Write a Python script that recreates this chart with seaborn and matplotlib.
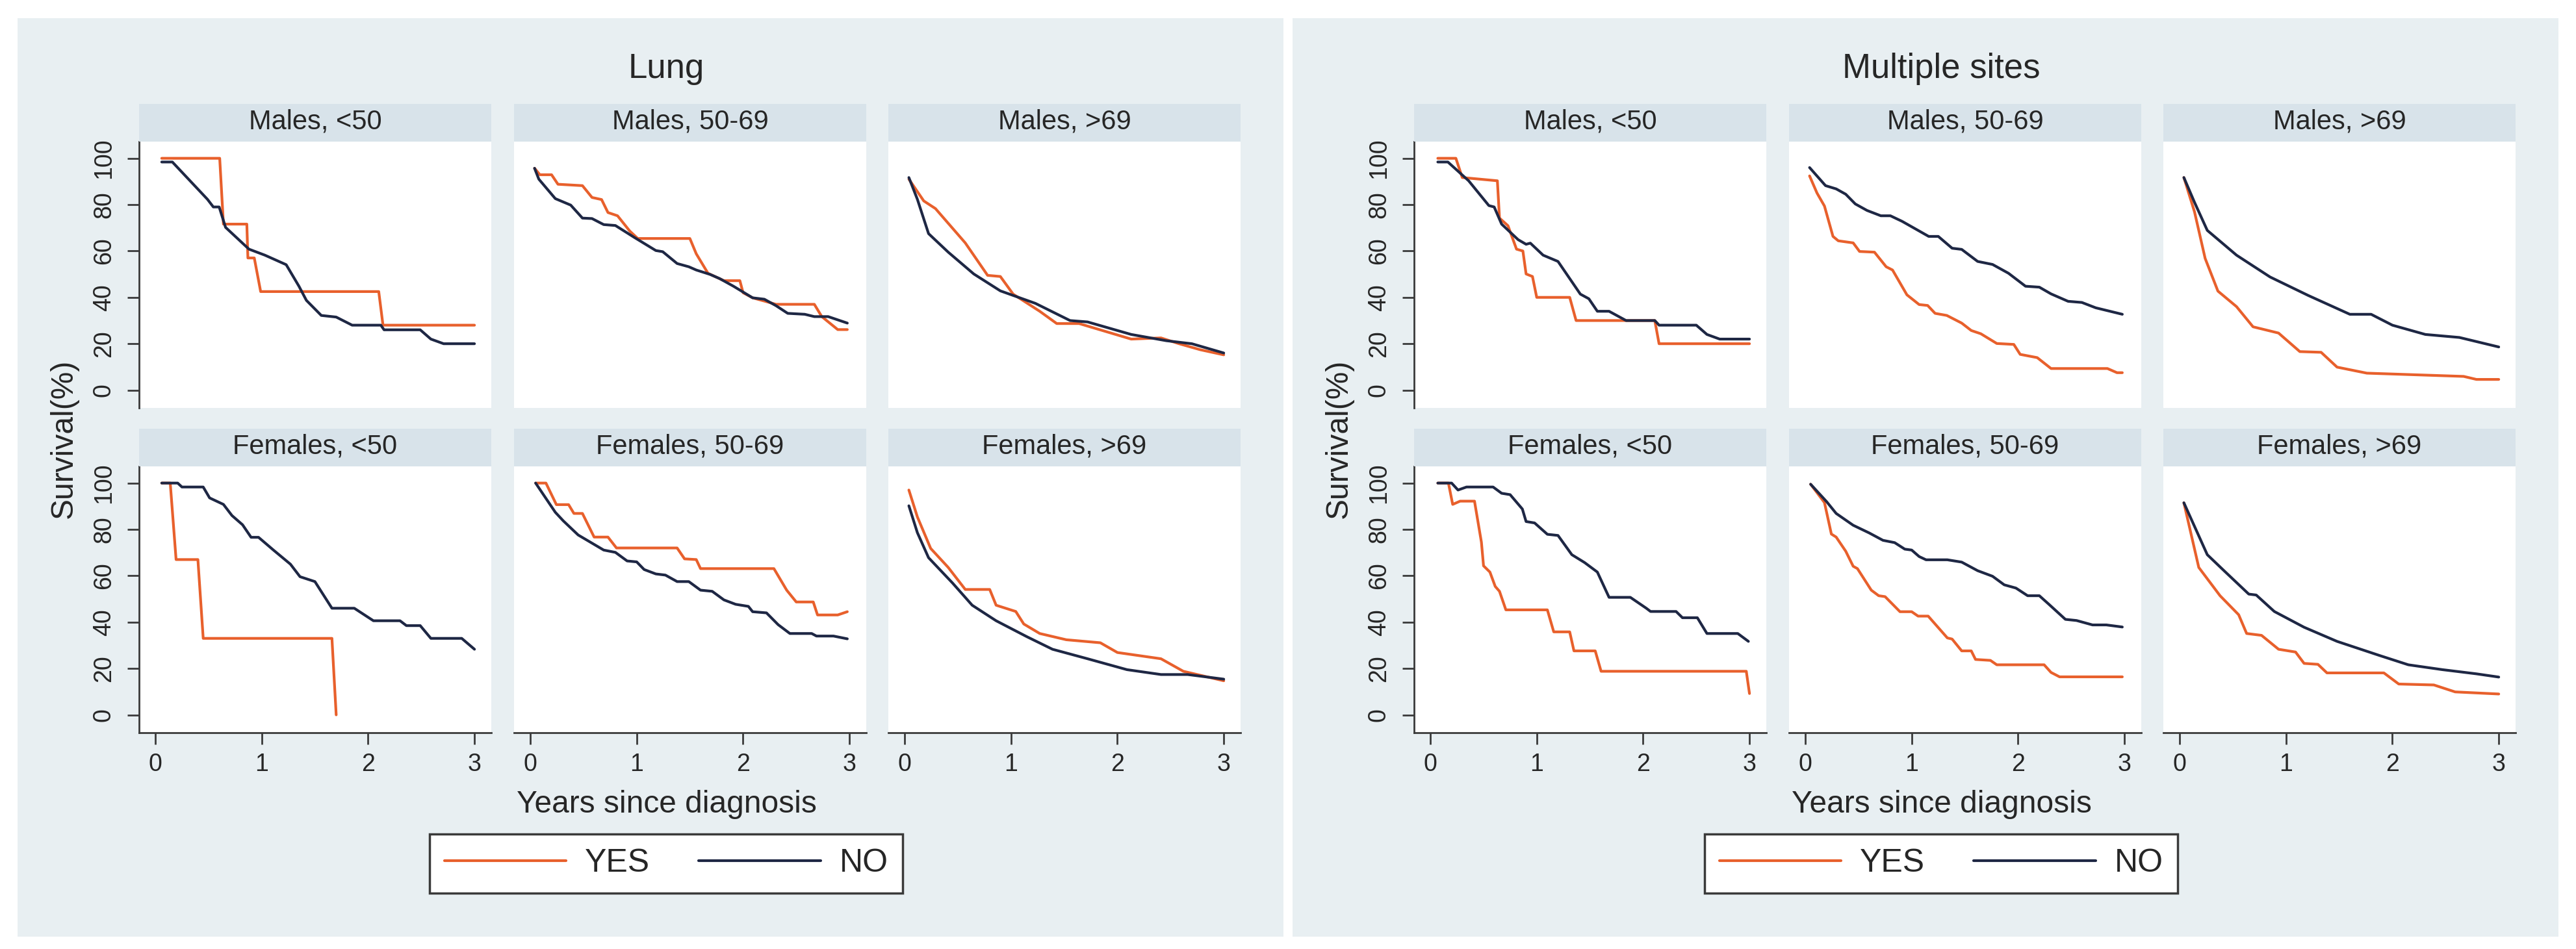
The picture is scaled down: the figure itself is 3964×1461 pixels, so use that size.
import matplotlib
matplotlib.use("Agg")
import matplotlib.pyplot as plt
from matplotlib.patches import Rectangle
from matplotlib.lines import Line2D
import pandas as pd
import seaborn as sns

# ---- values (years since diagnosis, survival %) ----
sites = ["Lung", "Multiple sites"]
panel_titles = [["Males, <50", "Males, 50-69", "Males, >69"],
                ["Females, <50", "Females, 50-69", "Females, >69"]]
groups = ["YES", "NO"]
x_ticks = [0, 1, 2, 3]
y_ticks = [0, 20, 40, 60, 80, 100]

# Lung
lung_m1_yes_t = [0.06, 0.605, 0.64, 0.86, 0.87, 0.93, 0.99, 2.1, 2.14, 3.0]
lung_m1_yes_s = [100, 100, 71.6, 71.6, 57, 57, 42.5, 42.5, 28, 28]
lung_m1_no_t = [0.06, 0.16, 0.49, 0.545, 0.6, 0.66, 0.88, 1.03, 1.23, 1.35, 1.42, 1.56, 1.70, 1.85, 2.12, 2.15, 2.49, 2.59, 2.71, 3.0]
lung_m1_no_s = [98.4, 98.4, 82.3, 79, 79, 70.2, 60.8, 58.2, 54.1, 44.8, 38.7, 32.2, 31.5, 28, 28, 26, 26, 22, 20, 20]

lung_m2_yes_t = [0.04, 0.09, 0.2, 0.26, 0.49, 0.58, 0.67, 0.73, 0.82, 0.935, 1.01, 1.5, 1.56, 1.67, 1.82, 1.97, 2.0, 2.09, 2.31, 2.67, 2.74, 2.89, 2.98]
lung_m2_yes_s = [95.7, 92.9, 92.9, 88.8, 88.2, 83.1, 82.2, 76.6, 75.2, 68.6, 65.4, 65.4, 58.8, 50.4, 47.2, 47.2, 42, 39.8, 37, 37, 31.7, 26.1, 26.1]
lung_m2_no_t = [0.04, 0.08, 0.235, 0.38, 0.49, 0.58, 0.69, 0.80, 0.98, 1.18, 1.245, 1.38, 1.49, 1.56, 1.69, 1.78, 1.91, 2.09, 2.2, 2.31, 2.42, 2.58, 2.67, 2.8, 2.98]
lung_m2_no_s = [95.7, 91, 82.6, 79.8, 74.2, 74, 71.4, 71, 65.8, 60.2, 59.7, 54.6, 53.2, 51.8, 49.9, 48.1, 44.8, 39.8, 39.2, 36.4, 33.1, 32.7, 31.7, 31.7, 28.9]

lung_m3_yes_t = [0.04, 0.18, 0.29, 0.57, 0.78, 0.9, 1.02, 1.27, 1.43, 1.64, 2.13, 2.41, 2.58, 2.78, 3.0]
lung_m3_yes_s = [91, 81.6, 78.3, 63.5, 49.5, 49, 41.4, 34, 28.7, 28.7, 22, 22.5, 20, 17.4, 15.2]
lung_m3_no_t = [0.04, 0.12, 0.225, 0.41, 0.65, 0.90, 1.23, 1.555, 1.72, 2.13, 2.46, 2.70, 3.0]
lung_m3_no_s = [91.7, 82.3, 67.5, 59.5, 50.1, 42.8, 37.4, 30, 29.4, 24, 21.3, 20, 16]

lung_f1_yes_t = [0.06, 0.14, 0.195, 0.40, 0.45, 1.66, 1.70]
lung_f1_yes_s = [100, 100, 67, 67, 33, 33, 0]
lung_f1_no_t = [0.06, 0.21, 0.25, 0.45, 0.51, 0.64, 0.72, 0.82, 0.90, 0.97, 1.11, 1.27, 1.36, 1.50, 1.66, 1.87, 2.05, 2.30, 2.36, 2.49, 2.59, 2.88, 3.0]
lung_f1_no_s = [100, 100, 98.3, 98.3, 93.6, 90.8, 86, 82, 76.6, 76.6, 71.1, 65, 59.6, 57.5, 46, 46, 40.6, 40.6, 38.5, 38.5, 33, 33, 28.3]

lung_f2_yes_t = [0.05, 0.147, 0.245, 0.36, 0.41, 0.49, 0.60, 0.73, 0.81, 1.38, 1.45, 1.56, 1.60, 2.29, 2.41, 2.50, 2.66, 2.70, 2.89, 2.98]
lung_f2_yes_s = [100, 100, 90.7, 90.7, 86.9, 86.9, 76.7, 76.7, 72, 72, 67.3, 67, 63.1, 63.1, 53.8, 48.7, 48.7, 43.1, 43.1, 44.5]
lung_f2_no_t = [0.05, 0.235, 0.31, 0.45, 0.535, 0.69, 0.80, 0.91, 1.0, 1.07, 1.18, 1.27, 1.38, 1.49, 1.60, 1.71, 1.82, 1.93, 2.05, 2.09, 2.22, 2.33, 2.44, 2.645, 2.69, 2.85, 2.98]
lung_f2_no_s = [100, 87.4, 83.7, 77.6, 75.3, 71.1, 70.1, 66.4, 66, 62.7, 60.8, 60.3, 57.5, 57.5, 53.8, 53.3, 49.6, 47.7, 46.8, 44.5, 44, 38.9, 35.1, 35.1, 34, 34, 32.8]

lung_f3_yes_t = [0.04, 0.12, 0.245, 0.41, 0.57, 0.80, 0.86, 1.045, 1.12, 1.27, 1.52, 1.84, 2.0, 2.41, 2.62, 3.0]
lung_f3_yes_s = [97, 85.4, 71.8, 63.6, 54.1, 54.1, 47.3, 44.6, 39.2, 35.1, 32.4, 31.1, 26.9, 24.2, 18.8, 14.7]
lung_f3_no_t = [0.04, 0.12, 0.225, 0.45, 0.635, 0.86, 1.15, 1.39, 1.72, 2.09, 2.41, 2.66, 3.0]
lung_f3_no_s = [90.2, 78.6, 67.8, 56.9, 47.3, 40.6, 33.7, 28.3, 24.2, 19.5, 17.4, 17.4, 15.4]

# Multiple sites
mult_m1_yes_t = [0.07, 0.24, 0.30, 0.63, 0.65, 0.73, 0.81, 0.87, 0.90, 0.96, 1.00, 1.31, 1.37, 2.11, 2.15, 3.0]
mult_m1_yes_s = [100, 100, 91.7, 90.3, 74.2, 70.9, 60.8, 60, 50.1, 49, 40, 40, 30, 30, 20, 20]
mult_m1_no_t = [0.07, 0.165, 0.36, 0.55, 0.6, 0.67, 0.825, 0.90, 0.94, 1.06, 1.20, 1.41, 1.49, 1.57, 1.68, 1.84, 2.11, 2.15, 2.50, 2.60, 2.72, 3.0]
mult_m1_no_s = [98.4, 98.4, 90.3, 79.6, 79, 71.6, 64.9, 62.9, 63.4, 58.2, 55.5, 41.4, 39.4, 34, 34, 30, 30, 28, 28, 24, 22, 22]

mult_m2_yes_t = [0.04, 0.11, 0.18, 0.26, 0.31, 0.45, 0.51, 0.65, 0.76, 0.82, 0.955, 1.07, 1.15, 1.22, 1.33, 1.47, 1.56, 1.65, 1.80, 1.96, 2.02, 2.18, 2.31, 2.84, 2.93, 2.98]
mult_m2_yes_s = [92.4, 85, 79.4, 66.3, 64.4, 63.5, 59.8, 59.5, 53.2, 51.8, 41.1, 36.9, 36.5, 33.1, 32.2, 28.9, 25.7, 24.3, 20.1, 19.7, 15.4, 14, 9.3, 9.3, 7.5, 7.5]
mult_m2_no_t = [0.04, 0.19, 0.29, 0.38, 0.47, 0.58, 0.71, 0.80, 0.91, 1.16, 1.25, 1.38, 1.47, 1.62, 1.76, 1.91, 2.07, 2.20, 2.31, 2.47, 2.60, 2.73, 2.98]
mult_m2_no_s = [96, 88.2, 86.8, 84.5, 80.3, 77.5, 75.2, 75.2, 72.8, 66.3, 66.3, 61.2, 60.7, 55.5, 54.2, 50.4, 44.8, 44.4, 41.5, 38.3, 37.8, 35.5, 32.7]

mult_m3_yes_t = [0.04, 0.14, 0.24, 0.36, 0.535, 0.69, 0.93, 1.13, 1.33, 1.48, 1.76, 2.67, 2.79, 3.0]
mult_m3_yes_s = [91.7, 76.9, 56.8, 42.7, 36, 27.3, 24.6, 16.6, 16.3, 9.9, 7.3, 5.9, 4.6, 4.6]
mult_m3_no_t = [0.04, 0.14, 0.26, 0.535, 0.85, 1.21, 1.60, 1.80, 2.0, 2.31, 2.63, 3.0]
mult_m3_no_s = [91.7, 81, 68.9, 58.2, 48.8, 40.8, 32.7, 32.7, 28, 24, 22.7, 18.6]

mult_f1_yes_t = [0.07, 0.17, 0.21, 0.28, 0.415, 0.48, 0.50, 0.56, 0.61, 0.65, 0.71, 1.10, 1.16, 1.31, 1.35, 1.55, 1.605, 2.97, 3.0]
mult_f1_yes_s = [100, 100, 90.8, 92.2, 92.2, 74.5, 64.3, 61.6, 55.4, 53.3, 45.3, 45.3, 35.8, 35.8, 27.6, 27.6, 18.8, 18.8, 9.2]
mult_f1_no_t = [0.07, 0.20, 0.26, 0.34, 0.59, 0.67, 0.75, 0.865, 0.90, 0.98, 1.10, 1.20, 1.33, 1.45, 1.57, 1.68, 1.88, 2.03, 2.07, 2.31, 2.37, 2.51, 2.60, 2.89, 2.99]
mult_f1_no_s = [100, 100, 97, 98.3, 98.3, 95.6, 95, 88.8, 83.4, 82.8, 77.9, 77.4, 69.1, 65.7, 61.6, 50.7, 50.7, 46, 44.6, 44.6, 41.9, 41.9, 35.1, 35.1, 31.7]

mult_f2_yes_t = [0.05, 0.18, 0.245, 0.29, 0.38, 0.45, 0.49, 0.62, 0.69, 0.75, 0.89, 1.0, 1.06, 1.155, 1.335, 1.38, 1.47, 1.56, 1.60, 1.74, 1.80, 2.245, 2.31, 2.39, 2.98]
mult_f2_yes_s = [99.5, 91.6, 78, 76.7, 70.6, 64.1, 63.1, 53.8, 51.4, 51, 44.5, 44.5, 42.6, 42.6, 33.2, 32.7, 27.6, 27.6, 23.9, 23.5, 21.6, 21.6, 18.3, 16.4, 16.4]
mult_f2_no_t = [0.05, 0.20, 0.29, 0.45, 0.60, 0.73, 0.84, 0.935, 1.0, 1.07, 1.135, 1.335, 1.47, 1.62, 1.76, 1.87, 1.98, 2.09, 2.20, 2.29, 2.445, 2.55, 2.70, 2.83, 2.98]
mult_f2_no_s = [99.5, 92, 86.9, 81.8, 78.5, 75.3, 74.3, 71.5, 71.1, 68.3, 66.9, 66.9, 65.9, 62.2, 59.8, 56.1, 54.7, 51.4, 51.4, 47.7, 41.2, 40.7, 38.8, 38.8, 37.9]

mult_f3_yes_t = [0.04, 0.18, 0.38, 0.555, 0.63, 0.77, 0.93, 1.09, 1.17, 1.30, 1.385, 1.92, 2.06, 2.39, 2.59, 3.0]
mult_f3_yes_s = [91.5, 63.6, 51.4, 43.2, 35.1, 34.3, 28.3, 27.1, 22.2, 21.8, 18.1, 18.1, 13.3, 12.9, 9.9, 9]
mult_f3_no_t = [0.04, 0.26, 0.415, 0.65, 0.72, 0.89, 1.17, 1.48, 1.88, 2.15, 2.47, 2.79, 3.0]
mult_f3_no_s = [91.5, 69.1, 62.3, 52.1, 51.7, 44.6, 37.8, 31.7, 25.6, 21.6, 19.5, 17.7, 16.3]

# (site, row, col, group, times, survival)
curves = [
    (0, 0, 0, "YES", lung_m1_yes_t, lung_m1_yes_s), (0, 0, 0, "NO", lung_m1_no_t, lung_m1_no_s),
    (0, 0, 1, "YES", lung_m2_yes_t, lung_m2_yes_s), (0, 0, 1, "NO", lung_m2_no_t, lung_m2_no_s),
    (0, 0, 2, "YES", lung_m3_yes_t, lung_m3_yes_s), (0, 0, 2, "NO", lung_m3_no_t, lung_m3_no_s),
    (0, 1, 0, "YES", lung_f1_yes_t, lung_f1_yes_s), (0, 1, 0, "NO", lung_f1_no_t, lung_f1_no_s),
    (0, 1, 1, "YES", lung_f2_yes_t, lung_f2_yes_s), (0, 1, 1, "NO", lung_f2_no_t, lung_f2_no_s),
    (0, 1, 2, "YES", lung_f3_yes_t, lung_f3_yes_s), (0, 1, 2, "NO", lung_f3_no_t, lung_f3_no_s),
    (1, 0, 0, "YES", mult_m1_yes_t, mult_m1_yes_s), (1, 0, 0, "NO", mult_m1_no_t, mult_m1_no_s),
    (1, 0, 1, "YES", mult_m2_yes_t, mult_m2_yes_s), (1, 0, 1, "NO", mult_m2_no_t, mult_m2_no_s),
    (1, 0, 2, "YES", mult_m3_yes_t, mult_m3_yes_s), (1, 0, 2, "NO", mult_m3_no_t, mult_m3_no_s),
    (1, 1, 0, "YES", mult_f1_yes_t, mult_f1_yes_s), (1, 1, 0, "NO", mult_f1_no_t, mult_f1_no_s),
    (1, 1, 1, "YES", mult_f2_yes_t, mult_f2_yes_s), (1, 1, 1, "NO", mult_f2_no_t, mult_f2_no_s),
    (1, 1, 2, "YES", mult_f3_yes_t, mult_f3_yes_s), (1, 1, 2, "NO", mult_f3_no_t, mult_f3_no_s),
]

rows = []
for site, r, c, g, ts, ss in curves:
    for t, s in zip(ts, ss):
        rows.append({"site": site, "row": r, "col": c, "group": g, "t": t, "s": s})
df = pd.DataFrame(rows)

ORANGE = "#E8602C"
NAVY = "#1E2744"
PANEL_BG = "#E8EFF2"
STRIP_BG = "#D8E3EA"
INK = "#262626"
AXC = "#3a3a3a"
palette = {"YES": ORANGE, "NO": NAVY}

W, H = 3964, 1461
sns.set_theme(style="white")
plt.rcParams["font.family"] = ["Liberation Sans", "DejaVu Sans"]
plt.rcParams["text.color"] = INK

fig = plt.figure(figsize=(W / 100, H / 100), dpi=100, facecolor="white")


def px_box(x, y, w, h):
    # pixel box (top-left origin) -> figure fraction
    return [x / W, 1 - (y + h) / H, w / W, h / H]


col_x = [214, 791, 1367]
row_y = [218, 718]
strip_y = [160, 660]
plot_w, plot_h, strip_h = 542, 410, 58

for si, site in enumerate(sites):
    off = si * 1962
    fig.add_artist(Rectangle(((27 + off) / W, 1 - 1442 / H), 1948 / W, 1414 / H,
                             transform=fig.transFigure, facecolor=PANEL_BG,
                             edgecolor="none", zorder=-5))
    for r in range(2):
        for c in range(3):
            x0 = col_x[c] + off
            ax = fig.add_axes(px_box(x0, row_y[r], plot_w, plot_h))
            ax.set_facecolor("white")
            sub = df[(df.site == si) & (df.row == r) & (df.col == c)]
            sns.lineplot(data=sub, x="t", y="s", hue="group", hue_order=groups,
                         palette=palette, estimator=None, sort=False,
                         linewidth=3, legend=False, ax=ax)
            ax.set_xlim(-0.153, 3.158)
            ax.set_ylim(-7.7, 107.2)
            ax.set_xticks(x_ticks)
            ax.set_yticks(y_ticks)
            ax.set_xlabel("")
            ax.set_ylabel("")
            for sp in ["top", "right"]:
                ax.spines[sp].set_visible(False)
            ax.spines["left"].set_visible(c == 0)
            ax.spines["bottom"].set_visible(r == 1)
            for sp in ["left", "bottom"]:
                ax.spines[sp].set_color(AXC)
                ax.spines[sp].set_linewidth(2)
            ax.tick_params(axis="both", direction="out", length=13, width=2,
                           color=AXC, labelsize=27, labelcolor=INK)
            ax.tick_params(axis="y", pad=13, labelrotation=90,
                           left=(c == 0), labelleft=(c == 0))
            ax.tick_params(axis="x", pad=9, bottom=(r == 1), labelbottom=(r == 1))
            for lbl in ax.get_yticklabels():
                lbl.set_va("center")

            sax = fig.add_axes(px_box(x0, strip_y[r], plot_w, strip_h))
            sax.set_facecolor(STRIP_BG)
            sax.set_xticks([])
            sax.set_yticks([])
            for sp in sax.spines.values():
                sp.set_visible(False)
            sax.text(0.5, 0.33, panel_titles[r][c], ha="center", va="baseline",
                     fontsize=30, transform=sax.transAxes)

    fig.text((1025 + off) / W, 1 - 120 / H, site, ha="center", va="baseline", fontsize=38)
    fig.text((1026 + off) / W, 1 - 1251 / H, "Years since diagnosis",
             ha="center", va="baseline", fontsize=34.5)
    fig.text((98 + off) / W, 1 - 675 / H, "Survival(%)", rotation=90,
             ha="center", va="center", fontsize=34.5)

    handles = [Line2D([], [], color=palette[g], lw=3) for g in groups]
    leg = fig.legend(handles, groups, ncol=2, loc="center",
                     bbox_to_anchor=((1025 + off) / W, 1 - 1329 / H),
                     fontsize=36, frameon=True, fancybox=False, framealpha=1,
                     facecolor="white", edgecolor=AXC, handlelength=3.75,
                     handletextpad=0.58, columnspacing=1.5, borderpad=0.45)
    leg.get_frame().set_linewidth(2.5)

fig.savefig("out.png", dpi=100, facecolor="white")
